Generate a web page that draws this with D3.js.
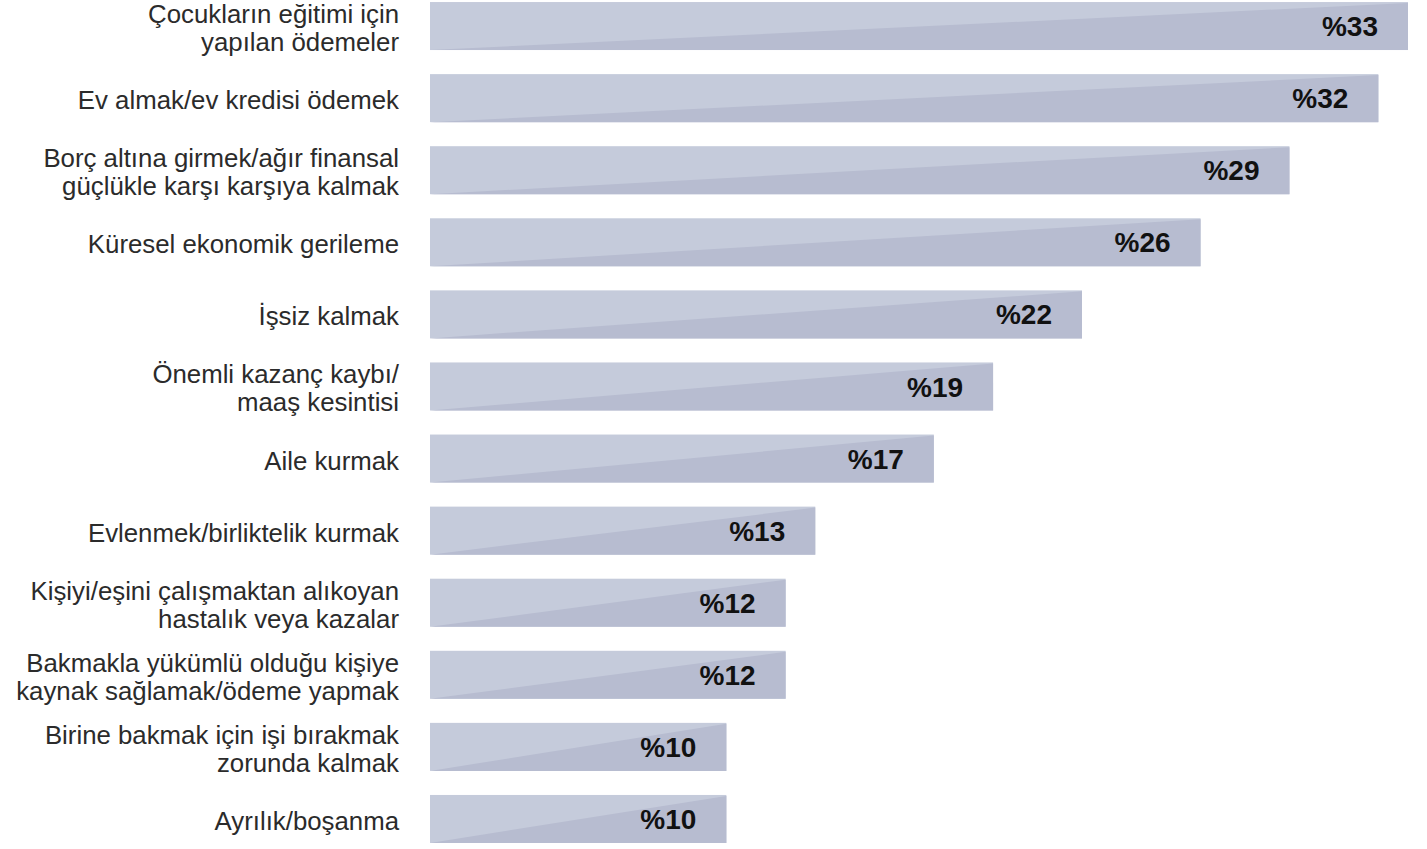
<!DOCTYPE html>
<html>
<head>
<meta charset="utf-8">
<script src="https://cdn.jsdelivr.net/npm/d3@7"></script>
<style>
  body { margin: 0; background: #fff; }
  svg { display: block; }
</style>
</head>
<body>
<div id="chart"></div>
<script>
var categories = [
    ["Çocukların eğitimi için", "yapılan ödemeler"],
    ["Ev almak/ev kredisi ödemek"],
    ["Borç altına girmek/ağır finansal", "güçlükle karşı karşıya kalmak"],
    ["Küresel ekonomik gerileme"],
    ["İşsiz kalmak"],
    ["Önemli kazanç kaybı/", "maaş kesintisi"],
    ["Aile kurmak"],
    ["Evlenmek/birliktelik kurmak"],
    ["Kişiyi/eşini çalışmaktan alıkoyan", "hastalık veya kazalar"],
    ["Bakmakla yükümlü olduğu kişiye", "kaynak sağlamak/ödeme yapmak"],
    ["Birine bakmak için işi bırakmak", "zorunda kalmak"],
    ["Ayrılık/boşanma"]
];
var values = [33, 32, 29, 26, 22, 19, 17, 13, 12, 12, 10, 10];

var width = 1427, height = 849;
var LIGHT = "#c5cbdb";
var DARK = "#b7bcd0";

var svg = d3.select("#chart").append("svg")
    .attr("width", width)
    .attr("height", height);

var x = d3.scaleLinear()
    .domain([0, 33])
    .range([430, 1408]);

var y = d3.scaleBand()
    .domain(d3.range(values.length))
    .range([-10, 855])
    .paddingInner(0.334)
    .paddingOuter(0.167);

var bar = svg.append("g")
    .attr("class", "bars")
    .selectAll("g")
    .data(values)
    .enter().append("g");

// light base
bar.append("rect")
    .attr("x", x(0))
    .attr("y", function(d, i) { return y(i); })
    .attr("width", function(d) { return x(d) - x(0); })
    .attr("height", y.bandwidth())
    .attr("fill", LIGHT);

// darker lower-right triangle
bar.append("path")
    .attr("fill", DARK)
    .attr("d", function(d, i) {
        var x0 = x(0), x1 = x(d);
        var y0 = y(i), y1 = y(i) + y.bandwidth();
        return "M" + x0 + "," + y1 + "L" + x1 + "," + (y0 + 1) + "L" + x1 + "," + y1 + "Z";
    });

bar.append("text")
    .attr("x", function(d) { return x(d) - 30; })
    .attr("y", function(d, i) { return y(i) + y.bandwidth() / 2; })
    .attr("dy", "0.36em")
    .attr("text-anchor", "end")
    .attr("font-family", "Liberation Sans, Arial, sans-serif")
    .attr("font-weight", "bold")
    .attr("font-size", 28)
    .attr("fill", "#111")
    .text(function(d) { return "%" + d; });

var LINE_H = 28;
var label = svg.append("g")
    .attr("class", "labels")
    .selectAll("text")
    .data(categories)
    .enter().append("text")
    .attr("text-anchor", "end")
    .attr("font-family", "Liberation Sans, Arial, sans-serif")
    .attr("font-size", 25.8)
    .attr("fill", "#2b2b2b");

label.each(function(lines, i) {
    var cy = y(i) + y.bandwidth() / 2 + 2;
    var top = cy - (lines.length - 1) * LINE_H / 2;
    d3.select(this).selectAll("tspan")
        .data(lines)
        .enter().append("tspan")
        .attr("x", 399)
        .attr("y", function(d, j) { return top + j * LINE_H; })
        .attr("dy", "0.35em")
        .text(function(d) { return d; });
});
</script>
</body>
</html>
